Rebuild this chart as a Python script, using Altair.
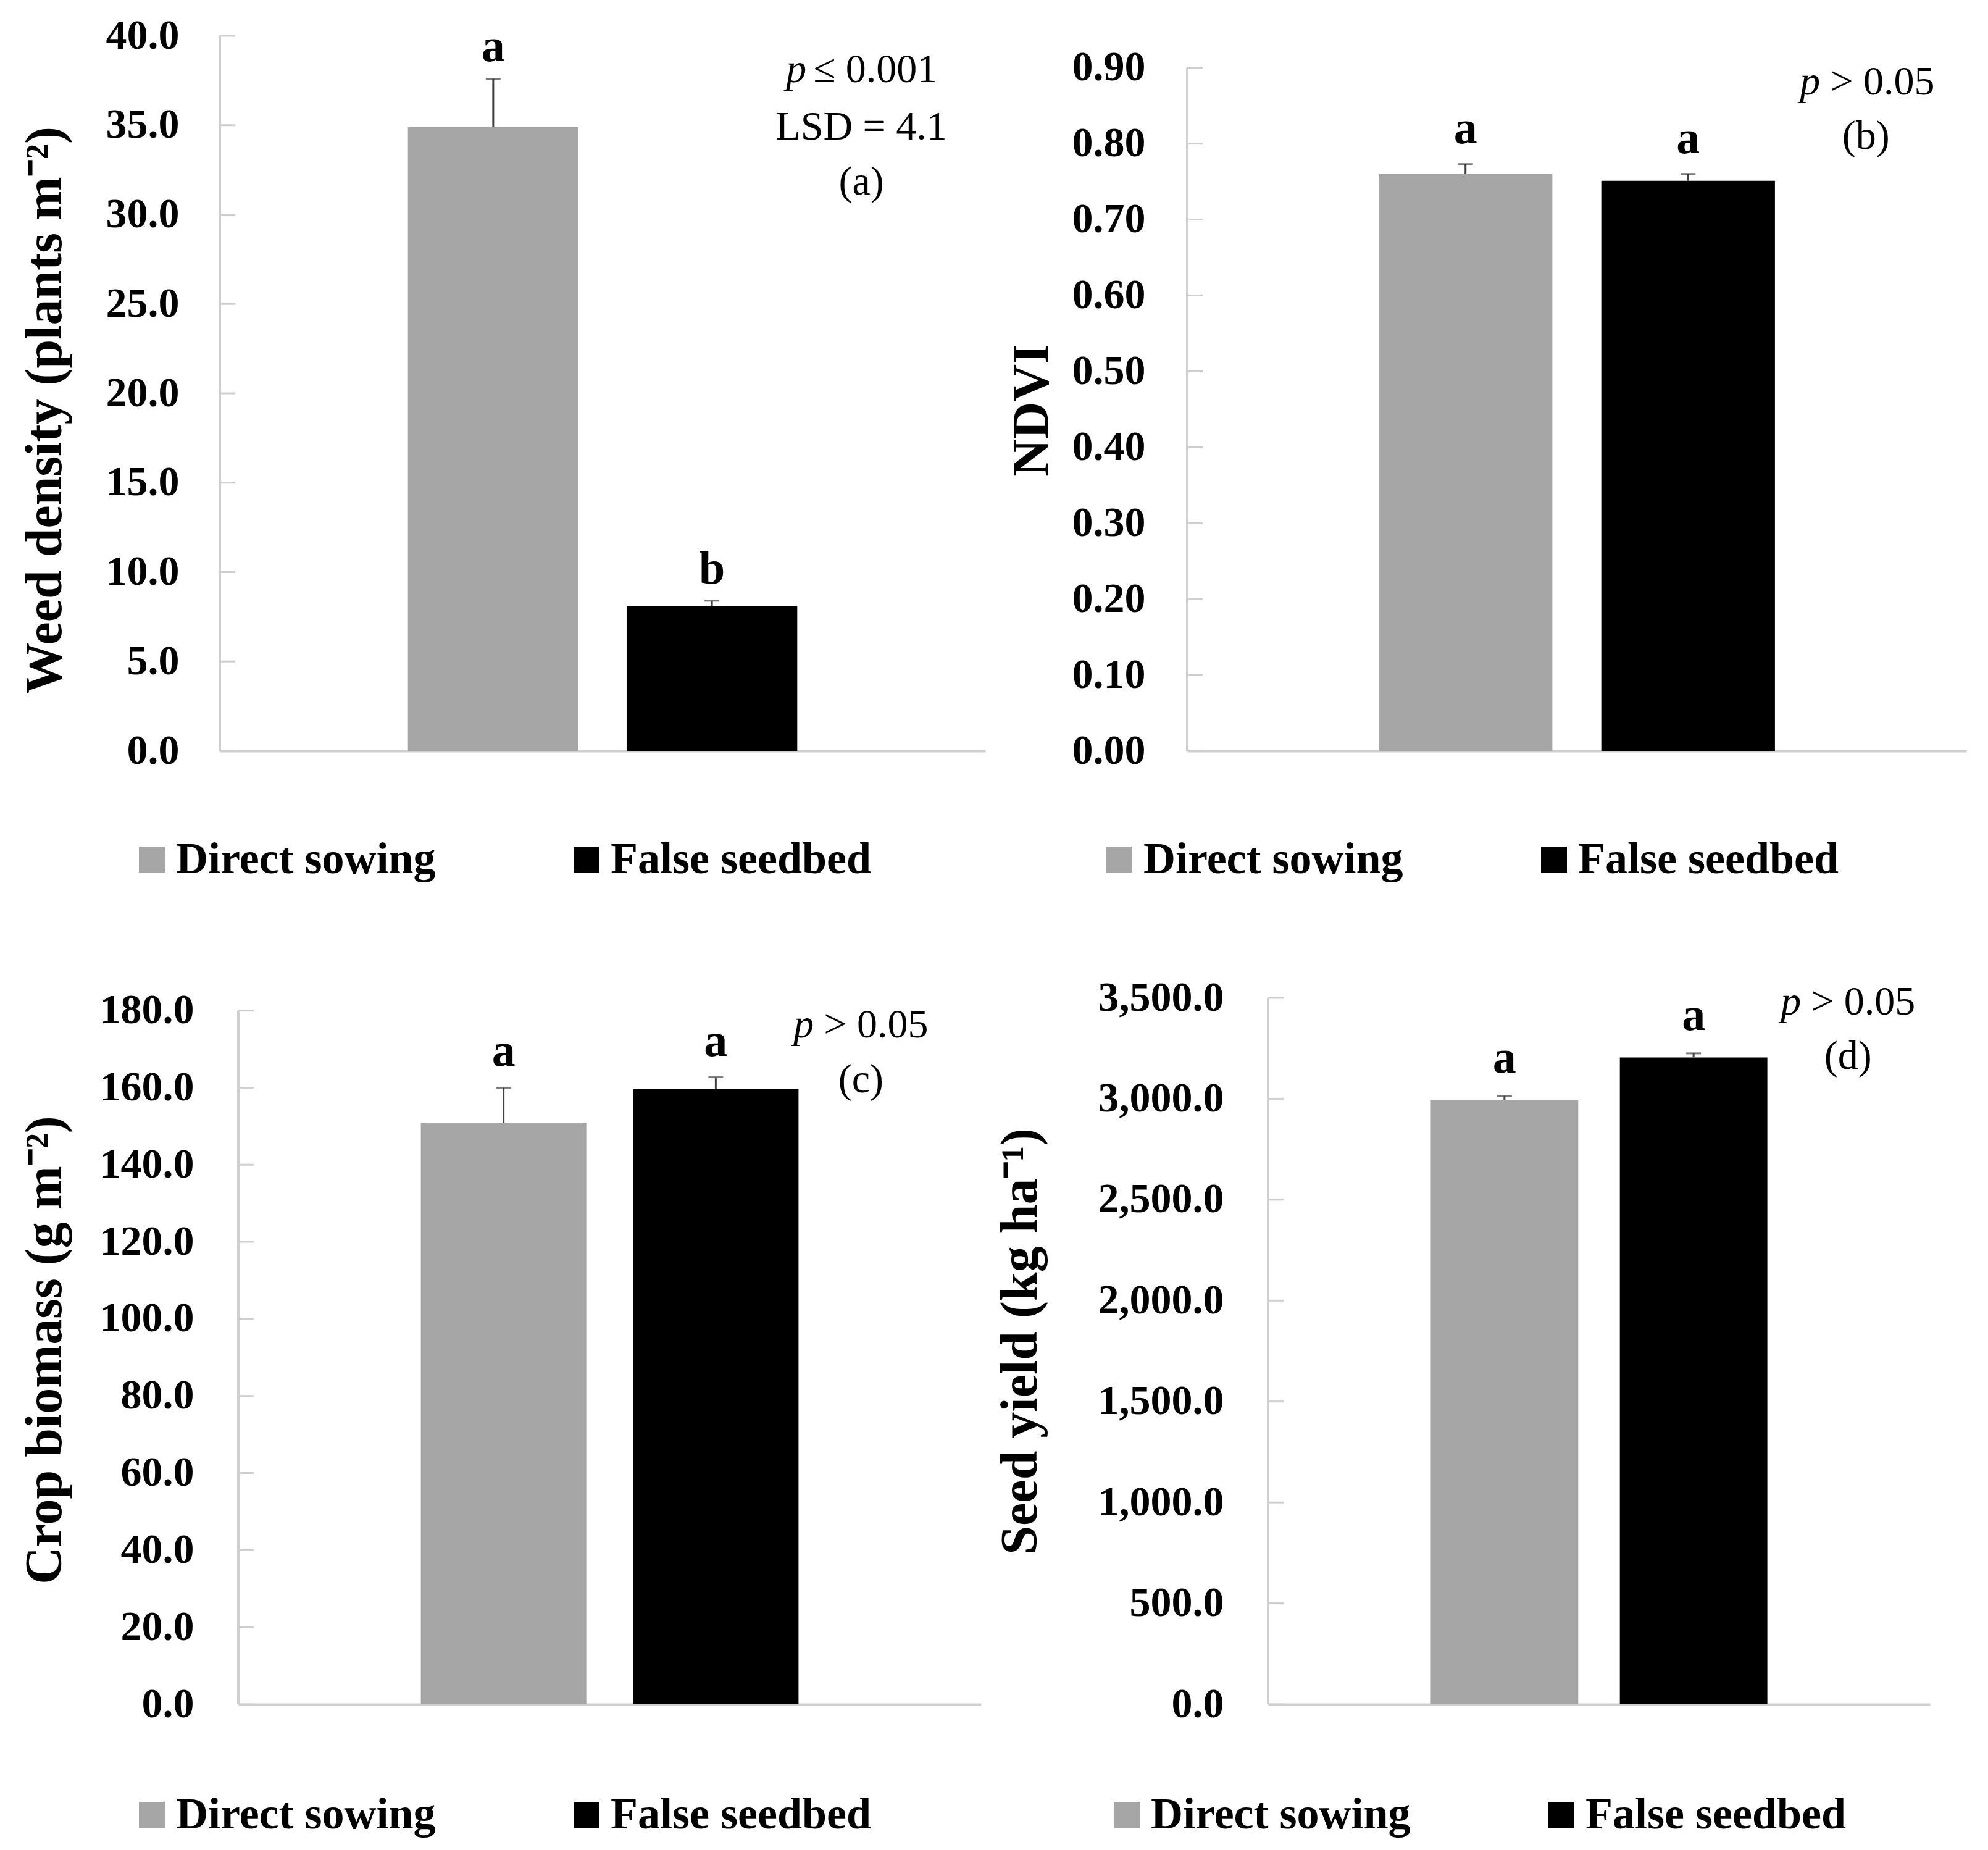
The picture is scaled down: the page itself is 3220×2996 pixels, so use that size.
import altair as alt
import pandas as pd

FONT = "Liberation Serif"
AXIS_GRAY = "#CFCFCF"
ERR_COLOR = "#404040"

TREATMENTS = ["Direct sowing", "False seedbed"]
BAR_COLORS = ["#A6A6A6", "#000000"]

# (a) Weed density
weed_mean = [34.9, 8.1]
weed_upper = [37.6, 8.4]
weed_letters = ["a", "b"]
weed_ticks = [0, 5, 10, 15, 20, 25, 30, 35, 40]

# (b) NDVI
ndvi_mean = [0.760, 0.751]
ndvi_upper = [0.773, 0.760]
ndvi_letters = ["a", "a"]
ndvi_ticks = [0.0, 0.1, 0.2, 0.3, 0.4, 0.5, 0.6, 0.7, 0.8, 0.9]

# (c) Crop biomass
bio_mean = [150.9, 159.6]
bio_upper = [160.0, 162.7]
bio_letters = ["a", "a"]
bio_ticks = [0, 20, 40, 60, 80, 100, 120, 140, 160, 180]

# (d) Seed yield
yield_mean = [2994, 3205]
yield_upper = [3014, 3225]
yield_letters = ["a", "a"]
yield_ticks = [0, 500, 1000, 1500, 2000, 2500, 3000, 3500]

# annotation texts
ann_a = ["LSD = 4.1", "(a)"]
ann_b = ["(b)"]
ann_c = ["(c)"]
ann_d = ["(d)"]


def panel(mean, upper, letters, ticks, ymax, fmt, title, width, height,
          label_pad, title_x, title_y, letter_dy,
          p_rest, p_y, p_dx, rest_dx, lines, lines_y, lines_dx,
          legend_x, legend_y, shift=0):
    df = pd.DataFrame({"treatment": TREATMENTS, "mean": mean,
                       "upper": upper, "letter": letters})
    sc = dict(domain=TREATMENTS, paddingInner=0.22, paddingOuter=0.86)
    if shift:
        sc["range"] = [shift, shift + width]
    xscale = alt.Scale(**sc)
    yscale = alt.Scale(domain=[0, ymax], nice=False, zero=True)

    x_axis = alt.Axis(labels=False, ticks=False, title=None, domain=True,
                      domainColor=AXIS_GRAY, domainWidth=4, grid=False)
    yax = dict(values=ticks, format=fmt, title=title, domain=False,
               ticks=False, grid=False, labelPadding=label_pad,
               labelFont=FONT, labelFontSize=68, labelFontWeight="bold",
               labelColor="#000000", labelLimit=1000, titleFont=FONT,
               titleFontSize=84, titleFontWeight="bold", titleColor="#000000",
               titleX=title_x, titleY=title_y,
               titleBaseline="alphabetic", titleAlign="center")
    if shift:
        yax["offset"] = -shift
    y_axis = alt.Axis(**yax)
    legend = alt.Legend(title=None, orient="none", legendX=legend_x,
                        legendY=legend_y, direction="horizontal",
                        symbolType="square", symbolSize=1764,
                        symbolStrokeWidth=0, symbolOpacity=1,
                        labelFont=FONT, labelFontSize=72,
                        labelFontWeight="bold", labelColor="#000000",
                        labelOffset=3, columnPadding=208, labelLimit=2000,
                        padding=0)

    X = lambda f: alt.X(f, scale=xscale, axis=x_axis)
    Y = lambda f: alt.Y(f, scale=yscale, axis=y_axis)

    bars = alt.Chart(df).mark_bar().encode(
        x=X("treatment:N"),
        y=Y("mean:Q"),
        color=alt.Color("treatment:N",
                        scale=alt.Scale(domain=TREATMENTS, range=BAR_COLORS),
                        legend=legend),
    )

    yline = alt.Chart(pd.DataFrame({"lo": [ticks[0]], "hi": [ticks[-1]]})).mark_rule(
        color=AXIS_GRAY, strokeWidth=4).encode(
        x=alt.value(shift), y=Y("lo:Q"), y2="hi:Q")
    tickmarks = alt.Chart(pd.DataFrame({"v": ticks})).mark_rule(
        color=AXIS_GRAY, strokeWidth=3).encode(
        x=alt.value(shift), x2=alt.value(shift + 25), y=Y("v:Q"))

    whisk = alt.Chart(df).mark_rule(color=ERR_COLOR, strokeWidth=3).encode(
        x=X("treatment:N"), y=Y("mean:Q"), y2="upper:Q")
    cap = alt.Chart(df).mark_tick(color=ERR_COLOR, thickness=3, size=24).encode(
        x=X("treatment:N"), y=Y("upper:Q"))
    lett = alt.Chart(df).mark_text(font=FONT, fontSize=76, fontWeight="bold",
                                   baseline="alphabetic", dy=letter_dy,
                                   color="#000000").encode(
        x=X("treatment:N"), y=Y("upper:Q"), text="letter:N")

    p_df = pd.DataFrame({"t": ["p"], "r": [p_rest], "y": [p_y],
                         "g": ["False seedbed"]})
    p_it = alt.Chart(p_df).mark_text(font=FONT, fontSize=66, fontStyle="italic",
                                     align="right", baseline="middle",
                                     dx=p_dx, color="#000000").encode(
        x=X("g:N"), y=Y("y:Q"), text="t:N")
    p_rest_m = alt.Chart(p_df).mark_text(font=FONT, fontSize=66,
                                         align="left", baseline="middle",
                                         dx=rest_dx, color="#000000").encode(
        x=X("g:N"), y=Y("y:Q"), text="r:N")
    l_df = pd.DataFrame({"t": lines, "y": lines_y,
                         "g": ["False seedbed"] * len(lines)})
    l_m = alt.Chart(l_df).mark_text(font=FONT, fontSize=66, align="center",
                                    baseline="middle", dx=lines_dx,
                                    color="#000000").encode(
        x=X("g:N"), y=Y("y:Q"), text="t:N")

    return alt.layer(bars, yline, tickmarks, whisk, cap, lett,
                     p_it, p_rest_m, l_m).properties(width=width + shift,
                                                     height=height)


pa = panel(weed_mean, weed_upper, weed_letters, weed_ticks, 40, ".1f",
           "Weed density (plants m⁻²)", 1240, 1158,
           66, -258, 606, -28,
           "≤ 0.001", 38.1, 153, 164, ann_a, [34.88, 31.8], 242,
           -146, 1298)
pb = panel(ndvi_mean, ndvi_upper, ndvi_letters, ndvi_ticks, 0.942, ".2f",
           "NDVI", 1262, 1158,
           68, -226, 606, -34,
           "> 0.05", 0.881, 214, 230, ann_b, [0.809], 288,
           -146, 1298)
pc = panel(bio_mean, bio_upper, bio_letters, bio_ticks, 183.3, ".1f",
           "Crop biomass (g m⁻²)", 1203, 1144,
           72, -288, 570, -35,
           "> 0.05", 176.2, 159, 175, ann_c, [162.0], 235,
           -146, 1287, shift=30)
pd_ = panel(yield_mean, yield_upper, yield_letters, yield_ticks, 3500, ",.1f",
            "Seed yield (kg ha⁻¹)", 1072, 1144,
            72, -376, 556, -38,
            "> 0.05", 3478, 174, 190, ann_d, [3209], 250,
            -265, 1287)

row1 = alt.hconcat(pa, pb, spacing=327, bounds="flush").resolve_scale(
    color="independent", x="independent", y="independent").resolve_legend(
    color="independent")
row2 = alt.hconcat(pc, pd_, spacing=465, bounds="flush").resolve_scale(
    color="independent", x="independent", y="independent").resolve_legend(
    color="independent")

chart = alt.vconcat(row1, row2, spacing=154).resolve_scale(
    color="independent", x="independent", y="independent").resolve_legend(
    color="independent").configure_view(stroke=None).properties(
    padding={"left": 22, "top": 16, "right": 10, "bottom": 6},
    background="#ffffff")

chart.save("out.html", embed_options={"renderer": "svg", "actions": False})
